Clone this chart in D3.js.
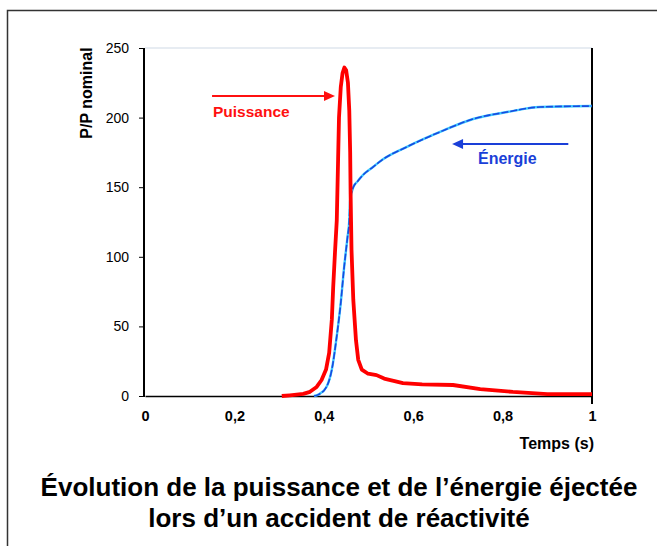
<!DOCTYPE html>
<html>
<head>
<meta charset="utf-8">
<script src="https://cdn.jsdelivr.net/npm/d3@7"></script>
<style>
  body { margin: 0; background: #fff; }
  svg { display: block; font-family: "Liberation Sans", Arial, sans-serif; }
</style>
</head>
<body>
<div id="chart"></div>
<script>
// power curve (P/P nominal) vs time in s
const puissanceT = [0.306, 0.324, 0.354, 0.369, 0.384, 0.395, 0.405, 0.412, 0.418, 0.421, 0.425, 0.429, 0.432, 0.434, 0.438, 0.442, 0.446, 0.450, 0.454, 0.457, 0.459, 0.460, 0.461, 0.462, 0.466, 0.472, 0.477, 0.485, 0.499, 0.518, 0.535, 0.577, 0.620, 0.689, 0.750, 0.823, 0.900, 1.000]
const puissanceV = [0, 0.5, 1.5, 3, 6.5, 11.5, 19, 31, 55, 78, 103, 126, 170, 200, 222, 232, 236, 234, 225, 205, 175, 145, 125, 105, 69, 40, 26, 19, 16, 15, 12.5, 9.3, 8.3, 7.9, 5, 2.9, 1.4, 1.4]

// energy curve
const energieT = [0.378, 0.388, 0.406, 0.418, 0.429, 0.438, 0.445, 0.453, 0.457, 0.459, 0.466, 0.475, 0.490, 0.510, 0.530, 0.586, 0.660, 0.734, 0.810, 0.884, 1.000]
const energieV = [0, 1, 6.5, 19, 43, 67, 91, 114, 126, 141, 150, 154, 159.5, 164.5, 169.5, 179, 189.7, 199, 204, 207.6, 208.3]

const xTicks = [0, 0.2, 0.4, 0.6, 0.8, 1]
const yTicks = [0, 50, 100, 150, 200, 250]

const width = 657
const height = 546

const svg = d3.select("#chart").append("svg")
  .attr("width", width)
  .attr("height", height)

// outer frame (top and left edges only are visible)
svg.append("path")
  .attr("d", "M7.5,546V10.5H660")
  .attr("fill", "none")
  .attr("stroke", "#333")
  .attr("stroke-width", 1.5)

const x = d3.scaleLinear().domain([0, 1]).range([145, 592])
const y = d3.scaleLinear().domain([0, 250]).range([396, 48])

// light line at the top of the plot
svg.append("line")
  .attr("x1", x(0)).attr("x2", x(1))
  .attr("y1", y(250)).attr("y2", y(250))
  .attr("stroke", "#dfe6ee").attr("stroke-width", 1.5)

// y axis
const yAxis = svg.append("g")
  .attr("transform", `translate(${x(0) - 1},0)`)
  .call(d3.axisLeft(y).tickValues(yTicks).tickSize(5).tickPadding(10))
yAxis.select(".domain").attr("stroke", "#000").attr("stroke-width", 2)
  .attr("d", `M0,${y(250)}V${y(0) + 1}`)
yAxis.selectAll(".tick line").attr("stroke", "#000")
yAxis.selectAll("text")
  .attr("font-size", 14).attr("fill", "#000")
  .attr("font-family", "Liberation Sans, Arial, sans-serif")

// x axis
const xAxis = svg.append("g")
  .attr("transform", `translate(0,${y(0)})`)
  .call(d3.axisBottom(x).tickValues(xTicks).tickSize(0).tickPadding(15)
    .tickFormat(d => String(d).replace(".", ",")))
xAxis.select(".domain").attr("stroke", "#000").attr("stroke-width", 1.5)
xAxis.selectAll("text")
  .attr("font-size", 14.5).attr("font-weight", "bold").attr("fill", "#000")
  .attr("font-family", "Liberation Sans, Arial, sans-serif")

// right border of plot
svg.append("line")
  .attr("x1", x(1)).attr("x2", x(1))
  .attr("y1", y(250)).attr("y2", y(0) + 8)
  .attr("stroke", "#000").attr("stroke-width", 2)

// axis titles
svg.append("text")
  .attr("transform", "translate(92,93) rotate(-90)")
  .attr("text-anchor", "middle")
  .attr("font-size", 16).attr("font-weight", "bold")
  .text("P/P nominal")

svg.append("text")
  .attr("x", 594).attr("y", 449)
  .attr("text-anchor", "end")
  .attr("font-size", 16).attr("font-weight", "bold")
  .text("Temps (s)")

const line = d3.line()
  .x(d => x(d[0]))
  .y(d => y(d[1]))
  .curve(d3.curveMonotoneX)

const energie = energieT.map((t, i) => [t, energieV[i]])
const puissance = puissanceT.map((t, i) => [t, puissanceV[i]])

// energy: cyan under a dashed blue line
svg.append("path")
  .attr("d", line(energie))
  .attr("fill", "none")
  .attr("stroke", "#3cc8ff").attr("stroke-width", 2.4)
svg.append("path")
  .attr("d", line(energie))
  .attr("fill", "none")
  .attr("stroke", "#1a48e0").attr("stroke-width", 1.6)
  .attr("stroke-dasharray", "7,2")

svg.append("path")
  .attr("d", d3.line().x(d => x(d[0])).y(d => y(d[1]))(puissance))
  .attr("fill", "none")
  .attr("stroke", "#ff0000").attr("stroke-width", 3.8)
  .attr("stroke-linejoin", "round")

// annotations
function arrow(x1, x2, yv, color) {
  const py = y(yv)
  const dir = x2 > x1 ? 1 : -1
  const tip = x(x2)
  svg.append("line")
    .attr("x1", x(x1)).attr("x2", tip - dir * 8)
    .attr("y1", py).attr("y2", py)
    .attr("stroke", color).attr("stroke-width", 2)
  svg.append("path")
    .attr("d", `M${tip},${py}L${tip - dir * 11},${py - 5}L${tip - dir * 11},${py + 5}Z`)
    .attr("fill", color)
}

arrow(0.150, 0.425, 215.5, "#ff1010")
svg.append("text")
  .attr("x", x(0.152)).attr("y", y(200.4))
  .attr("font-size", 15.5).attr("font-weight", "bold")
  .attr("fill", "#ff1010")
  .text("Puissance")

arrow(0.947, 0.687, 181, "#1a3fd8")
svg.append("text")
  .attr("x", x(0.745)).attr("y", y(166.7))
  .attr("font-size", 16).attr("font-weight", "bold")
  .attr("fill", "#1a3fd8")
  .text("Énergie")

// caption
const caption = svg.append("text")
  .attr("text-anchor", "middle")
  .attr("font-size", 26).attr("font-weight", "bold")
  .attr("fill", "#000")
caption.append("tspan").attr("x", 339).attr("y", 496)
  .text("Évolution de la puissance et de l’énergie éjectée")
caption.append("tspan").attr("x", 339).attr("y", 527)
  .text("lors d’un accident de réactivité")
</script>
</body>
</html>
